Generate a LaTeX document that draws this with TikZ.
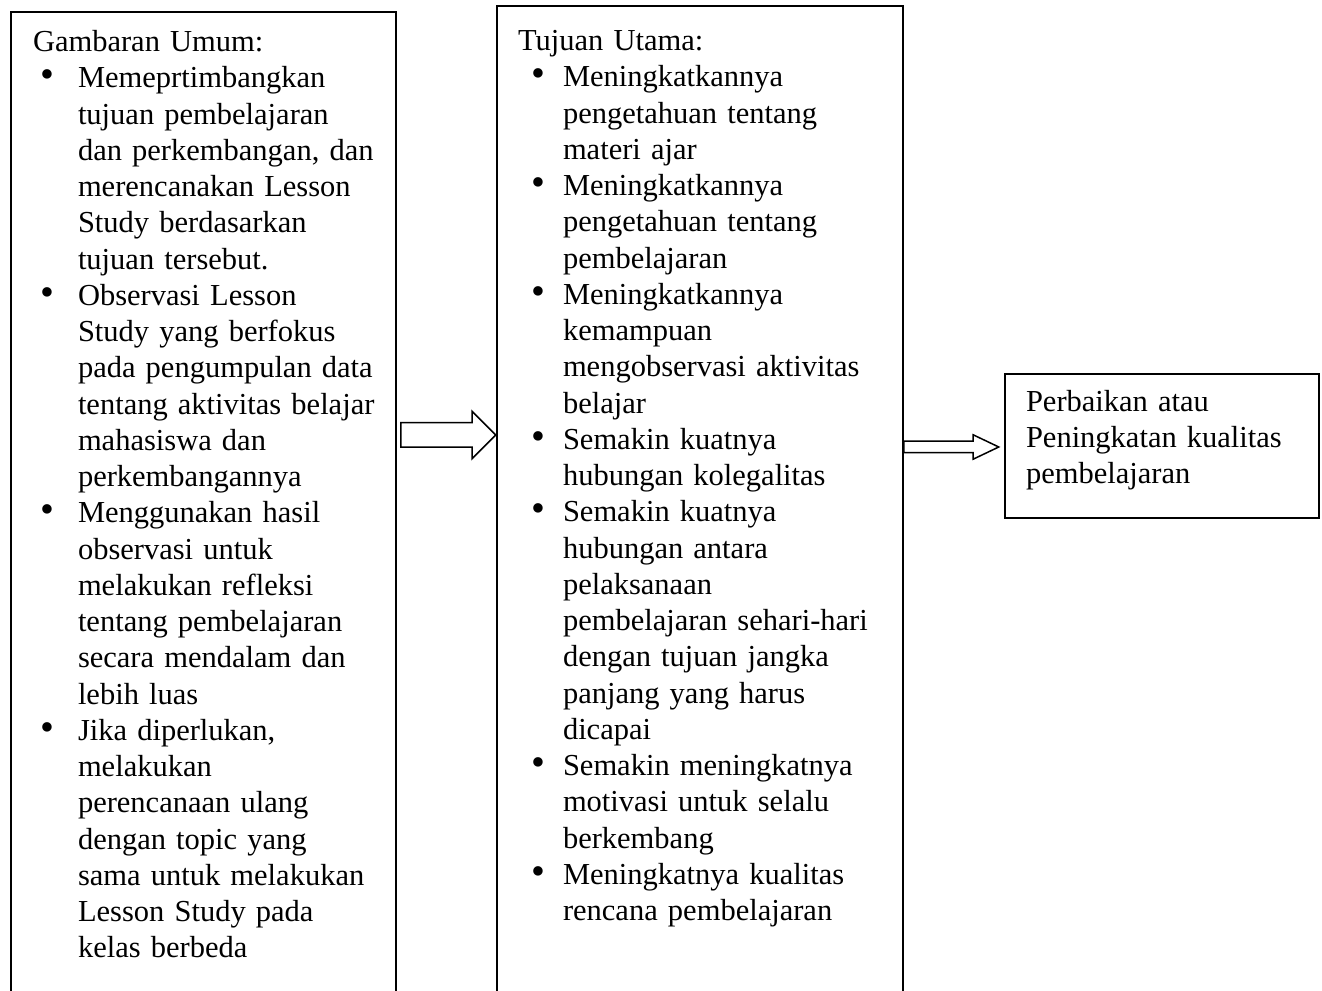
\documentclass[tikz,border=0pt]{standalone}
\usepackage{fontspec}
\setmainfont{Liberation Serif}
\usetikzlibrary{shapes.arrows,calc}
\newlength\bulind
\newlength\bulpos
\setlength\bulind{18pt}
\setlength\bulpos{2.8pt}
\newcommand{\bitem}[1]{\mbox{\makebox[\bulind][l]{\hspace*{\bulpos}\scalebox{1.3}{\textbullet}}#1}}
\newcommand{\cont}[1]{\mbox{\hspace*{\bulind}#1}}
\tikzset{
  panel/.style={draw, line width=0.8pt, anchor=north west, inner ysep=4.84pt,
    align=left, font=\fontsize{12.2}{14.5}\selectfont},
  arrA/.style={single arrow, draw, line width=0.6pt, minimum width=0pt,
    minimum height=38pt, inner sep=0pt, text height=9.2pt, text depth=0pt,
    single arrow head extend=4.6pt, single arrow tip angle=90, anchor=tail},
  arrB/.style={single arrow, draw, line width=0.6pt, minimum width=0pt,
    minimum height=38pt, inner sep=0pt, text height=4pt, text depth=0pt,
    single arrow head extend=2.6pt, single arrow tip angle=51, anchor=tail}
}
\begin{document}
\begin{tikzpicture}[x=0.4pt,y=-0.4pt]
\useasboundingbox (0,0) rectangle (1322,991);
\clip (0,0) rectangle (1322,991);

\node[panel, inner xsep=8.8pt, text width=136.4pt, text depth=420pt] (L) at (10,11) {%
\rule{0pt}{11pt}Gambaran Umum:\\
\bitem{Memeprtimbangkan}\\
\cont{tujuan pembelajaran}\\
\cont{dan perkembangan, dan}\\
\cont{merencanakan Lesson}\\
\cont{Study berdasarkan}\\
\cont{tujuan tersebut.}\\
\bitem{Observasi Lesson}\\
\cont{Study yang berfokus}\\
\cont{pada pengumpulan data}\\
\cont{tentang aktivitas belajar}\\
\cont{mahasiswa dan}\\
\cont{perkembangannya}\\
\bitem{Menggunakan hasil}\\
\cont{observasi untuk}\\
\cont{melakukan refleksi}\\
\cont{tentang pembelajaran}\\
\cont{secara mendalam dan}\\
\cont{lebih luas}\\
\bitem{Jika diperlukan,}\\
\cont{melakukan}\\
\cont{perencanaan ulang}\\
\cont{dengan topic yang}\\
\cont{sama untuk melakukan}\\
\cont{Lesson Study pada}\\
\cont{kelas berbeda}};

\node[panel, inner xsep=8.4pt, text width=145.6pt, text depth=420pt] (M) at (496,5) {%
\setlength\bulpos{5.5pt}%
\rule{0pt}{13pt}Tujuan Utama:\\
\bitem{Meningkatkannya}\\
\cont{pengetahuan tentang}\\
\cont{materi ajar}\\
\bitem{Meningkatkannya}\\
\cont{pengetahuan tentang}\\
\cont{pembelajaran}\\
\bitem{Meningkatkannya}\\
\cont{kemampuan}\\
\cont{mengobservasi aktivitas}\\
\cont{belajar}\\
\bitem{Semakin kuatnya}\\
\cont{hubungan kolegalitas}\\
\bitem{Semakin kuatnya}\\
\cont{hubungan antara}\\
\cont{pelaksanaan}\\
\cont{pembelajaran sehari-hari}\\
\cont{dengan tujuan jangka}\\
\cont{panjang yang harus}\\
\cont{dicapai}\\
\bitem{Semakin meningkatnya}\\
\cont{motivasi untuk selalu}\\
\cont{berkembang}\\
\bitem{Meningkatnya kualitas}\\
\cont{rencana pembelajaran}};

\node[panel, inner xsep=8.4pt, text width=108.8pt, text depth=37.8pt] (R) at (1004,373) {%
\strut Perbaikan atau\\
Peningkatan kualitas\\
pembelajaran};

\node[arrA] (a1) at ($(L.north east)+(3,424)$) {};
\node[arrB] (a2) at ($(M.north east)+(-1,442)$) {};
\end{tikzpicture}
\end{document}
